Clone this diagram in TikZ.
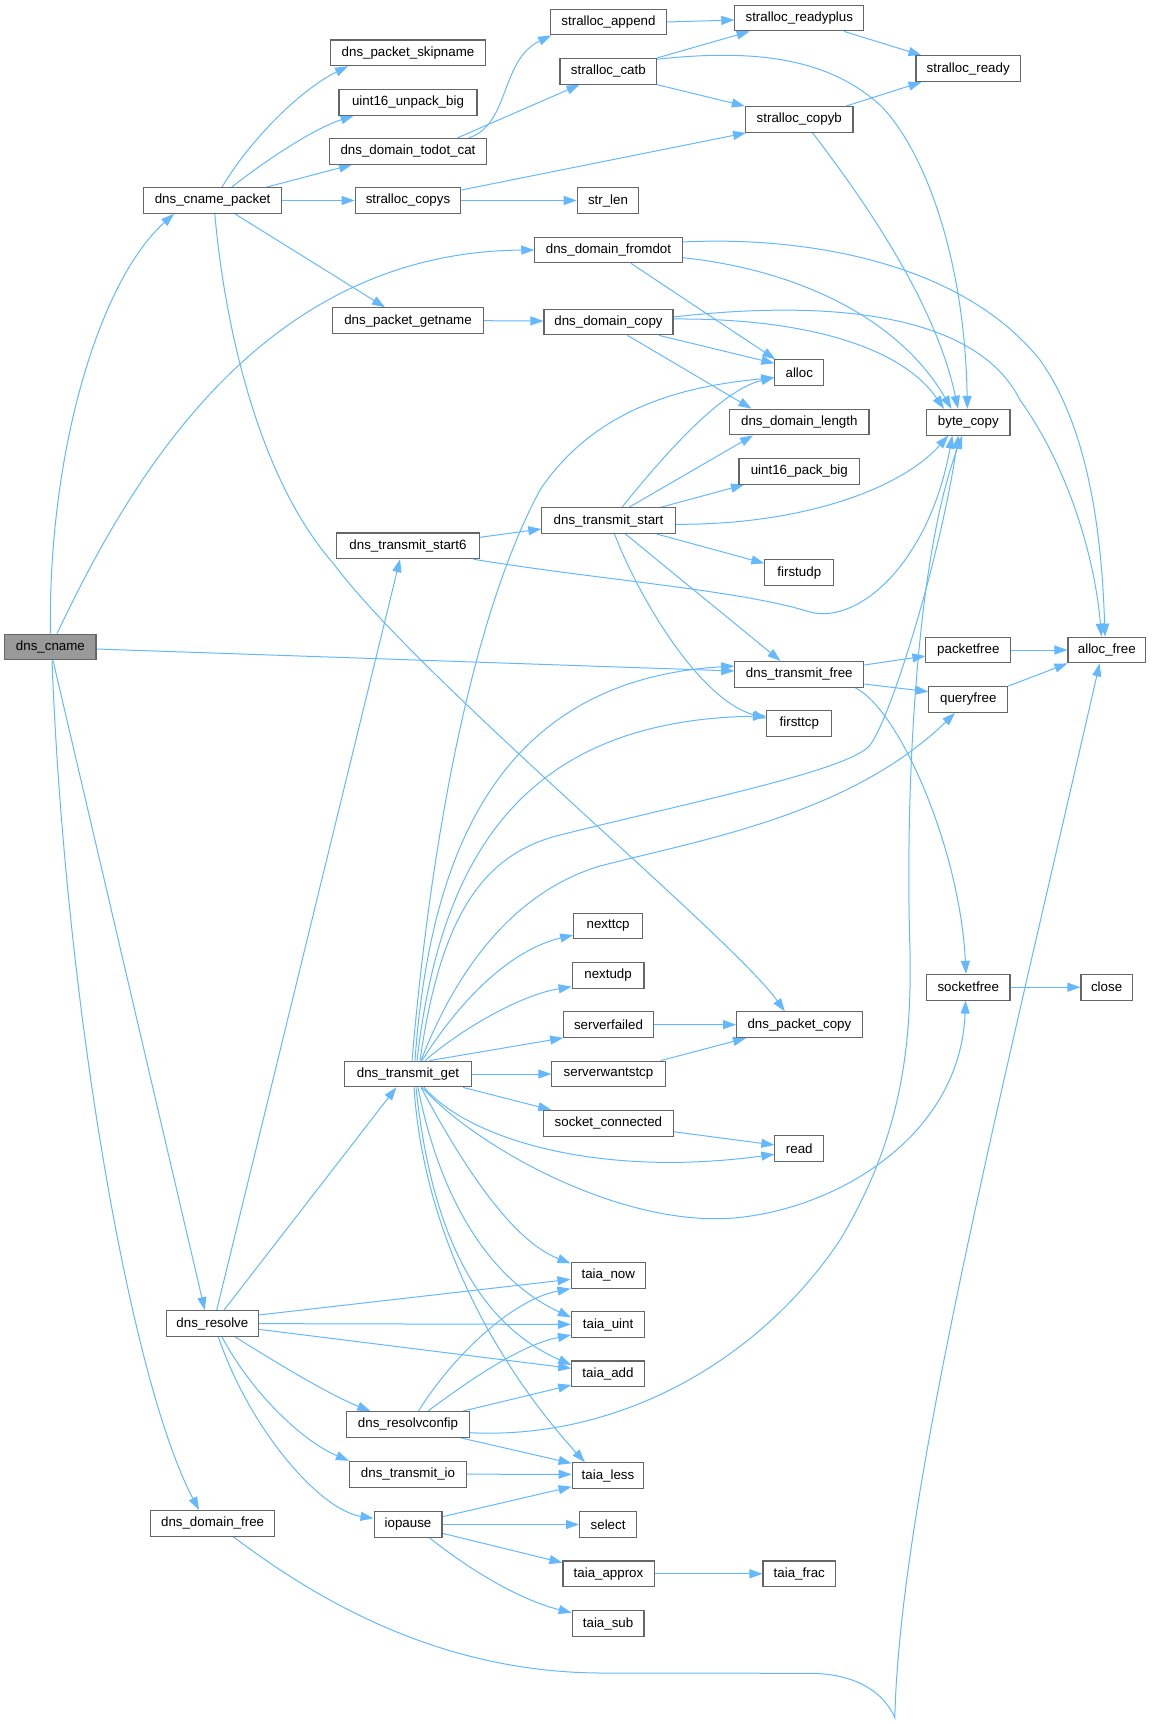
\documentclass[tikz,border=0pt]{standalone}
\usepackage{fontspec}
\setmainfont{Liberation Sans}
\usetikzlibrary{arrows.meta}
\definecolor{edgeblue}{HTML}{63B8FF}
\definecolor{boxgray}{HTML}{666666}
\definecolor{rootfill}{HTML}{999999}
\pgfdeclarelayer{bg}
\pgfsetlayers{bg,main}
\begin{document}
\begin{tikzpicture}[x=1pt,y=-1pt,
  fn/.style={draw=boxgray, line width=1.1pt, fill=white, minimum height=25.7pt, inner sep=0pt, font=\fontsize{13.33}{16}\selectfont, text=black},
  bw/.style={minimum width=#1pt},
  callarrow/.style={draw=edgeblue, line width=1pt, -{Triangle[length=13pt,width=9pt]}},
]
\useasboundingbox (0,0) rectangle (1153,1724);
% level 0
\node[fn,bw=91.2,fill=rootfill] (cname) at (50.4,647) {dns\_cname};
% level 1
\node[fn,bw=137.8] (cpacket) at (212.6,200.5) {dns\_cname\_packet};
\node[fn,bw=91.4] (resolve) at (212.4,1323.5) {dns\_resolve};
\node[fn,bw=123.7] (dfree) at (212.6,1523.3) {dns\_domain\_free};
% level 2
\node[fn,bw=154.5] (skipname) at (408,52.8) {dns\_packet\_skipname};
\node[fn,bw=138] (unpack) at (408,102.2) {uint16\_unpack\_big};
\node[fn,bw=157.7] (todot) at (408,151.3) {dns\_domain\_todot\_cat};
\node[fn,bw=105.7] (copys) at (408,200.5) {stralloc\_copys};
\node[fn,bw=150.3] (getname) at (408,320.7) {dns\_packet\_getname};
\node[fn,bw=142.6] (start6) at (408,545.8) {dns\_transmit\_start6};
\node[fn,bw=126.7] (tget) at (408,1074) {dns\_transmit\_get};
\node[fn,bw=122.6] (rconf) at (408,1424.5) {dns\_resolvconfip};
\node[fn,bw=117.1] (tio) at (408,1474.2) {dns\_transmit\_io};
\node[fn,bw=67.9] (iopause) at (408,1524.5) {iopause};
% level 3
\node[fn,bw=115.6] (append) at (608.5,22) {stralloc\_append};
\node[fn,bw=96.7] (catb) at (608.3,71.3) {stralloc\_catb};
\node[fn,bw=61.5] (strlen) at (608,200.5) {str\_len};
\node[fn,bw=147.4] (fromdot) at (608.5,250) {dns\_domain\_fromdot};
\node[fn,bw=129] (dcopy) at (608.5,322) {dns\_domain\_copy};
\node[fn,bw=133.3] (tstart) at (608.5,520.7) {dns\_transmit\_start};
\node[fn,bw=68.9] (nexttcp) at (608.1,926) {nexttcp};
\node[fn,bw=71.8] (nextudp) at (608.1,975.5) {nextudp};
\node[fn,bw=89.6] (sfailed) at (608.5,1024.5) {serverfailed};
\node[fn,bw=113.3] (swtcp) at (608.5,1074) {serverwantstcp};
\node[fn,bw=129.3] (sockconn) at (608.4,1123.3) {socket\_connected};
\node[fn,bw=74.5] (tnow) at (608.3,1275.3) {taia\_now};
\node[fn,bw=73.3] (tuint) at (608.1,1324.5) {taia\_uint};
\node[fn,bw=72.5] (tadd) at (608,1373.8) {taia\_add};
\node[fn,bw=71.8] (tless) at (608,1475.5) {taia\_less};
\node[fn,bw=57.1] (select) at (608.1,1524.5) {select};
\node[fn,bw=91.1] (tapprox) at (608.5,1573.8) {taia\_approx};
\node[fn,bw=71.8] (tsub) at (608.1,1623.5) {taia\_sub};
% level 4
\node[fn,bw=128.9] (readyplus) at (799.3,18) {stralloc\_readyplus};
\node[fn,bw=107.4] (copyb) at (799.3,119.5) {stralloc\_copyb};
\node[fn,bw=48.9] (alloc) at (799.3,372.7) {alloc};
\node[fn,bw=139.3] (dlength) at (799.3,422) {dns\_domain\_length};
\node[fn,bw=120.7] (pack) at (799.3,471.3) {uint16\_pack\_big};
\node[fn,bw=68.9] (firstudp) at (799.3,572.7) {firstudp};
\node[fn,bw=128.9] (tfree) at (799.3,674.2) {dns\_transmit\_free};
\node[fn,bw=65.2] (firsttcp) at (799.3,723.3) {firsttcp};
\node[fn,bw=125.5] (pcopy) at (799.4,1024.7) {dns\_packet\_copy};
\node[fn,bw=48.9] (read) at (799.3,1148.7) {read};
\node[fn,bw=72.6] (tfrac) at (799.3,1573.8) {taia\_frac};
% level 5
\node[fn,bw=104.4] (sready) at (968.2,68.7) {stralloc\_ready};
\node[fn,bw=83.3] (bcopy) at (968.3,422.2) {byte\_copy};
\node[fn,bw=84.8] (packetfree) at (968.3,650) {packetfree};
\node[fn,bw=78.9] (queryfree) at (968.3,699.5) {queryfree};
\node[fn,bw=83.3] (socketfree) at (968.3,987.2) {socketfree};
% level 6
\node[fn,bw=77.6] (allocfree) at (1106.8,650) {alloc\_free};
\node[fn,bw=51.2] (close) at (1106.6,987.2) {close};

\begin{pgfonlayer}{bg}
% dns_cname
\draw[callarrow] (cname.north) .. controls (48,450) and (100,280) .. ([xshift=-38.6pt]cpacket.south);
\draw[callarrow] ([xshift=6.6pt]cname.north) .. controls (130,480) and (260,252) .. (fromdot.west);
\draw[callarrow] ([yshift=-2pt]cname.east) -- ([yshift=3.2pt]tfree.west);
\draw[callarrow] ([xshift=2.6pt]cname.south) -- ([xshift=-7.6pt]resolve.north);
\draw[callarrow] ([xshift=1.6pt]cname.south) .. controls (65,1000) and (130,1380) .. ([xshift=-13.6pt]dfree.north);
% dns_cname_packet
\draw[callarrow] ([xshift=9.4pt]cpacket.north) .. controls (250,140) and (300,90) .. ([xshift=-60pt]skipname.south);
\draw[callarrow] ([xshift=19pt]cpacket.north) .. controls (260,165) and (310,130) .. ([xshift=-54.3pt]unpack.south);
\draw[callarrow] ([xshift=54pt]cpacket.north) -- ([xshift=-56pt]todot.south);
\draw[callarrow] (cpacket) -- (copys);
\draw[callarrow] ([xshift=22.4pt]cpacket.south) -- ([xshift=-23pt]getname.north);
\draw[callarrow] ([xshift=2.2pt]cpacket.south) .. controls (225,330) and (260,480) .. (333,563) .. controls (420,680) and (730,935) .. ([xshift=-14.6pt]pcopy.north);
% dns_domain_todot_cat
\draw[callarrow] ([xshift=60.5pt]todot.north) .. controls (510,125) and (500,60) .. ([xshift=1pt]append.south west);
\draw[callarrow] ([xshift=49.4pt]todot.north) -- ([xshift=-28.7pt]catb.south);
% stralloc_copys
\draw[callarrow] ([yshift=10.5pt]copys.east) -- ([xshift=1pt]copyb.south west);
\draw[callarrow] (copys) -- (strlen);
% stralloc_append, stralloc_catb
\draw[callarrow] (append.east) -- ([yshift=-2pt]readyplus.west);
\draw[callarrow] (catb.north east) -- ([xshift=-49.7pt]readyplus.south);
\draw[callarrow] ([yshift=-1.3pt]catb.north east) .. controls (760,48) and (830,60) .. (880,105) .. controls (925,150) and (965,260) .. ([xshift=-1pt]bcopy.north);
\draw[callarrow] (catb.south east) -- ([xshift=-54.5pt]copyb.north);
% stralloc_readyplus, stralloc_copyb
\draw[callarrow] ([xshift=44.7pt]readyplus.south) -- ([xshift=6pt]sready.north west);
\draw[callarrow] ([xshift=46.7pt]copyb.north) -- ([xshift=6pt]sready.south west);
\draw[callarrow] ([xshift=13.3pt]copyb.south) .. controls (860,195) and (935,300) .. ([xshift=-10.3pt]bcopy.north);
% dns_domain_fromdot
\draw[callarrow] ([yshift=8pt]fromdot.east) .. controls (800,236) and (960,260) .. (1040,360) .. controls (1090,430) and (1102,540) .. ([xshift=-1.8pt]allocfree.north);
\draw[callarrow] ([yshift=-7.7pt]fromdot.east) .. controls (800,270) and (900,320) .. ([xshift=-16.8pt]bcopy.north);
\draw[callarrow] ([xshift=22.5pt]fromdot.south) -- ([xshift=1pt]alloc.north west);
% dns_packet_getname
\draw[callarrow] (getname.east) -- ([yshift=1pt]dcopy.west);
% dns_domain_copy
\draw[callarrow] ([yshift=5pt]dcopy.east) .. controls (820,300) and (975,310) .. (1020,400) .. controls (1070,470) and (1095,560) .. ([xshift=-5.3pt]allocfree.north);
\draw[callarrow] ([yshift=3pt]dcopy.east) .. controls (800,318) and (900,345) .. ([xshift=-24.3pt]bcopy.north);
\draw[callarrow] ([xshift=50.5pt]dcopy.south) -- ([yshift=9.4pt]alloc.west);
\draw[callarrow] ([xshift=19pt]dcopy.south) -- ([xshift=-47.8pt]dlength.north);
% dns_transmit_start
\draw[callarrow] ([xshift=13.4pt]tstart.north) .. controls (660,460) and (720,390) .. ([yshift=-4.8pt]alloc.west);
\draw[callarrow] ([xshift=20.5pt]tstart.north) -- ([xshift=-46.3pt]dlength.south);
\draw[callarrow] ([xshift=52.2pt]tstart.north) -- ([xshift=-55.3pt]pack.south);
\draw[callarrow] ([yshift=-3.6pt]tstart.east) .. controls (800,525) and (900,490) .. ([xshift=-20pt]bcopy.south);
\draw[callarrow] ([xshift=48.5pt]tstart.south) -- ([yshift=9.4pt]firstudp.west);
\draw[callarrow] ([xshift=17pt]tstart.south) -- ([xshift=-18.9pt]tfree.north);
\draw[callarrow] ([xshift=6pt]tstart.south) .. controls (640,600) and (700,700) .. ([yshift=5pt]firsttcp.west);
% dns_transmit_start6
\draw[callarrow] ([yshift=8.5pt]start6.east) -- ([yshift=-8.3pt]tstart.west);
\draw[callarrow] ([xshift=65.3pt]start6.south) .. controls (600,580) and (740,590) .. (810,612) .. controls (860,625) and (930,560) .. ([xshift=-16pt]bcopy.south);
% dns_transmit_free
\draw[callarrow] ([yshift=9.2pt]tfree.east) -- ([yshift=-6pt]packetfree.west);
\draw[callarrow] ([yshift=-9.8pt]tfree.east) -- ([yshift=7.8pt]queryfree.west);
\draw[callarrow] ([xshift=55.7pt]tfree.south) .. controls (900,710) and (960,850) .. ([xshift=-2.3pt]socketfree.north);
\draw[callarrow] (packetfree) -- (allocfree);
\draw[callarrow] (queryfree.north east) -- (allocfree.south west);
\draw[callarrow] (socketfree) -- (close);
% dns_transmit_get
\draw[callarrow] ([xshift=4pt]tget.north) .. controls (430,850) and (470,620) .. (540,490) .. controls (600,400) and (700,385) .. ([yshift=-4.8pt]alloc.west);
\draw[callarrow] ([xshift=7pt]tget.north) .. controls (430,850) and (500,680) .. ([yshift=8.2pt]tfree.west);
\draw[callarrow] ([xshift=9pt]tget.north) .. controls (440,860) and (520,720) .. ([yshift=7.3pt]firsttcp.west);
\draw[callarrow] ([xshift=12pt]tget.north) .. controls (440,920) and (480,855) .. (560,835) .. controls (700,800) and (850,770) .. (870,745) .. controls (890,720) and (940,560) .. ([xshift=-10pt]bcopy.south);
\draw[callarrow] ([xshift=13pt]tget.north) .. controls (460,960) and (520,890) .. (600,866) .. controls (700,840) and (850,815) .. ([xshift=-13.3pt]queryfree.south);
\draw[callarrow] ([xshift=14pt]tget.north) .. controls (460,1000) and (510,950) .. ([yshift=-9pt]nexttcp.west);
\draw[callarrow] ([xshift=17pt]tget.north) .. controls (460,1030) and (520,995) .. ([yshift=-11.2pt]nextudp.west);
\draw[callarrow] ([xshift=21.6pt]tget.north) -- (sfailed.south west);
\draw[callarrow] (tget) -- (swtcp);
\draw[callarrow] ([xshift=55pt]tget.south) -- ([xshift=8pt]sockconn.north west);
\draw[callarrow] ([xshift=16pt]tget.south) .. controls (470,1140) and (600,1178) .. ([yshift=-5.6pt]read.west);
\draw[callarrow] ([xshift=14pt]tget.south) .. controls (480,1150) and (620,1225) .. (729,1218.3) .. controls (830,1212) and (960,1140) .. ([xshift=-2.7pt]socketfree.south);
\draw[callarrow] ([xshift=13pt]tget.south) .. controls (460,1160) and (510,1240) .. ([yshift=12pt]tnow.west);
\draw[callarrow] ([xshift=10pt]tget.south) .. controls (440,1200) and (490,1280) .. ([yshift=7.2pt]tuint.west);
\draw[callarrow] ([xshift=8pt]tget.south) .. controls (430,1220) and (470,1320) .. ([yshift=8.8pt]tadd.west);
\draw[callarrow] ([xshift=6pt]tget.south) .. controls (425,1250) and (510,1380) .. ([xshift=-23.2pt]tless.north);
% serverfailed, serverwantstcp, socket_connected
\draw[callarrow] (sfailed) -- (pcopy);
\draw[callarrow] ([xshift=52.2pt]swtcp.north) -- ([xshift=-53.4pt]pcopy.south);
\draw[callarrow] ([yshift=-8.4pt]sockconn.east) -- ([yshift=3.7pt]read.west);
% dns_resolve
\draw[callarrow] ([xshift=4.3pt]resolve.north) -- ([xshift=-8pt]start6.south);
\draw[callarrow] ([xshift=11.6pt]resolve.north) -- ([xshift=-11.7pt]tget.south);
\draw[callarrow] ([yshift=8.5pt]resolve.east) -- ([yshift=-4pt]tnow.west);
\draw[callarrow] (resolve) -- (tuint);
\draw[callarrow] ([yshift=-5.8pt]resolve.east) -- ([yshift=5.5pt]tadd.west);
\draw[callarrow] ([xshift=22.8pt]resolve.south) .. controls (280,1365) and (330,1395) .. ([xshift=-37.6pt]rconf.north);
\draw[callarrow] ([xshift=9.6pt]resolve.south) .. controls (250,1390) and (300,1440) .. (tio.north west);
\draw[callarrow] ([xshift=6pt]resolve.south) .. controls (250,1430) and (320,1510) .. ([yshift=6.2pt]iopause.west);
% dns_resolvconfip
\draw[callarrow] ([xshift=10.5pt]rconf.north) .. controls (450,1360) and (510,1300) .. (tnow.south west);
\draw[callarrow] ([xshift=19.8pt]rconf.north) .. controls (470,1380) and (520,1345) .. ([yshift=-10.5pt]tuint.west);
\draw[callarrow] ([xshift=55pt]rconf.north) -- ([yshift=-11.2pt]tadd.west);
\draw[callarrow] ([yshift=-8.2pt]rconf.east) .. controls (620,1440) and (760,1360) .. (840,1240) .. controls (900,1140) and (912,1050) .. (910,950) .. controls (905,800) and (915,560) .. ([xshift=-6pt]bcopy.south);
\draw[callarrow] ([xshift=53pt]rconf.south) -- ([yshift=12.2pt]tless.west);
% dns_transmit_io, iopause, taia_approx
\draw[callarrow] (tio.east) -- ([yshift=1.2pt]tless.west);
\draw[callarrow] ([yshift=7.8pt]iopause.east) -- ([yshift=-11.2pt]tless.west);
\draw[callarrow] (iopause) -- (select);
\draw[callarrow] ([yshift=-8.8pt]iopause.east) -- ([yshift=11.1pt]tapprox.west);
\draw[callarrow] ([xshift=21.6pt]iopause.south) .. controls (470,1570) and (520,1600) .. ([yshift=10.8pt]tsub.west);
\draw[callarrow] (tapprox) -- (tfrac);
% dns_domain_free
\draw[callarrow] ([xshift=20.7pt]dfree.south) .. controls (330,1610) and (450,1672) .. (600,1673) -- (810.7,1673.3) .. controls (860,1674) and (885,1695) .. (894.8,1717.7) .. controls (900,1500) and (1000,1100) .. ([xshift=-7.2pt]allocfree.south);
\end{pgfonlayer}
\end{tikzpicture}
\end{document}
